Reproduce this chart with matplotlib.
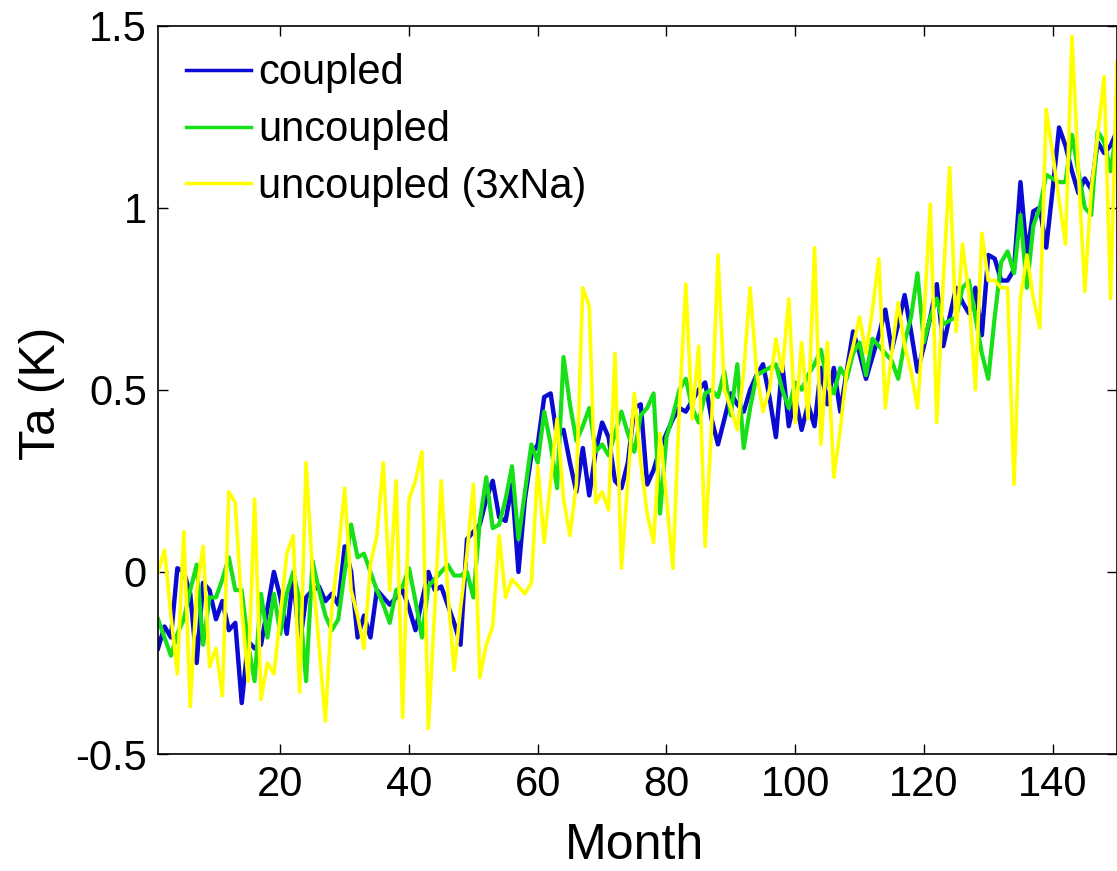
import matplotlib
matplotlib.use("Agg")
import matplotlib.pyplot as plt
import numpy as np

plt.rcParams['font.family'] = ['Liberation Sans', 'DejaVu Sans']

# --- Data ---
months = np.arange(1, 151)

coupled = [
    -0.21, -0.15, -0.18, 0.01, 0.00, -0.06, -0.25, -0.03, -0.05, -0.13,
    -0.08, -0.16, -0.14, -0.36, -0.19, -0.21, -0.20, -0.10, 0.00, -0.07,
    -0.17, -0.01, -0.20, -0.07, -0.05, -0.04, -0.08, -0.06, -0.09, 0.07,
    0.00, -0.18, -0.12, -0.18, -0.05, -0.07, -0.09, -0.07, -0.05, -0.10,
    -0.16, -0.08, 0.00, -0.05, -0.04, -0.09, -0.14, -0.20, 0.09, 0.11,
    0.13, 0.20, 0.25, 0.15, 0.14, 0.24, 0.00, 0.20, 0.32, 0.35,
    0.48, 0.49, 0.37, 0.39, 0.30, 0.22, 0.34, 0.21, 0.33, 0.41,
    0.37, 0.25, 0.23, 0.30, 0.45, 0.46, 0.24, 0.28, 0.34, 0.38,
    0.42, 0.45, 0.44, 0.47, 0.50, 0.52, 0.42, 0.35, 0.42, 0.49,
    0.46, 0.44, 0.50, 0.54, 0.57, 0.48, 0.37, 0.57, 0.40, 0.48,
    0.39, 0.46, 0.40, 0.56, 0.46, 0.56, 0.44, 0.55, 0.66, 0.60,
    0.53, 0.59, 0.65, 0.72, 0.61, 0.68, 0.76, 0.66, 0.55, 0.62,
    0.70, 0.79, 0.62, 0.70, 0.78, 0.74, 0.71, 0.78, 0.65, 0.87,
    0.86, 0.80, 0.80, 0.83, 1.07, 0.87, 0.99, 1.00, 0.89, 1.05,
    1.22, 1.17, 1.10, 1.04, 1.08, 1.05, 1.18, 1.15, 1.17, 1.21,
]

uncoupled = [
    -0.13, -0.18, -0.23, -0.17, -0.13, -0.05, 0.02, -0.20, -0.07, -0.07,
    -0.02, 0.04, -0.05, -0.05, -0.20, -0.30, -0.06, -0.18, -0.06, -0.17,
    -0.06, 0.00, -0.08, -0.30, 0.03, -0.05, -0.12, -0.16, -0.13, 0.00,
    0.13, 0.04, 0.05, 0.00, -0.05, -0.09, -0.14, -0.05, -0.04, 0.01,
    -0.08, -0.18, -0.04, -0.02, 0.00, 0.02, -0.01, -0.01, 0.00, -0.07,
    0.14, 0.26, 0.12, 0.13, 0.20, 0.29, 0.09, 0.22, 0.35, 0.30,
    0.44, 0.35, 0.23, 0.59, 0.46, 0.36, 0.40, 0.45, 0.33, 0.35,
    0.32, 0.38, 0.44, 0.38, 0.33, 0.43, 0.45, 0.49, 0.16, 0.37,
    0.43, 0.50, 0.53, 0.45, 0.41, 0.49, 0.50, 0.48, 0.55, 0.43,
    0.57, 0.34, 0.45, 0.54, 0.55, 0.56, 0.57, 0.50, 0.45, 0.52,
    0.50, 0.54, 0.57, 0.61, 0.52, 0.49, 0.56, 0.53, 0.60, 0.63,
    0.54, 0.64, 0.62, 0.60, 0.58, 0.53, 0.63, 0.70, 0.82, 0.63,
    0.70, 0.75, 0.68, 0.69, 0.70, 0.78, 0.80, 0.70, 0.60, 0.53,
    0.70, 0.85, 0.88, 0.82, 0.98, 0.78, 0.95, 1.00, 1.09, 1.08,
    1.07, 1.07, 1.20, 1.10, 1.00, 0.98, 1.21, 1.18, 1.10, 1.22,
]

uncoupled_3xna = [
    0.00, 0.06, -0.12, -0.28, 0.11, -0.37, -0.05, 0.07, -0.26, -0.21,
    -0.34, 0.22, 0.19, -0.10, -0.30, 0.20, -0.35, -0.25, -0.28, -0.12,
    0.05, 0.10, -0.33, 0.30, 0.00, -0.20, -0.41, -0.10, 0.05, 0.23,
    -0.05, -0.12, -0.21, 0.02, 0.10, 0.30, -0.05, 0.25, -0.40, 0.20,
    0.25, 0.33, -0.43, -0.10, 0.25, -0.05, -0.27, -0.10, 0.05, 0.24,
    -0.29, -0.20, -0.15, 0.10, -0.07, -0.02, -0.04, -0.06, -0.03, 0.29,
    0.08, 0.25, 0.42, 0.20, 0.10, 0.24, 0.78, 0.73, 0.19, 0.22,
    0.17, 0.60, 0.01, 0.25, 0.49, 0.30, 0.16, 0.08, 0.38, 0.20,
    0.01, 0.45, 0.79, 0.42, 0.62, 0.07, 0.40, 0.87, 0.50, 0.45,
    0.39, 0.55, 0.78, 0.55, 0.44, 0.50, 0.64, 0.55, 0.75, 0.41,
    0.63, 0.42, 0.89, 0.35, 0.63, 0.26, 0.39, 0.55, 0.62, 0.70,
    0.60, 0.72, 0.86, 0.45, 0.60, 0.74, 0.62, 0.55, 0.45, 0.70,
    1.01, 0.41, 0.80, 1.11, 0.66, 0.90, 0.76, 0.50, 0.93, 0.80,
    0.80, 0.78, 0.78, 0.24, 0.75, 0.87, 0.75, 0.67, 1.27, 1.15,
    1.02, 0.90, 1.47, 1.10, 0.77, 1.05, 1.20, 1.36, 0.75, 1.40,
]

x_ticks = [20, 40, 60, 80, 100, 120, 140]
y_ticks = [-0.5, 0, 0.5, 1, 1.5]
y_tick_labels = ['-0.5', '0', '0.5', '1', '1.5']

# --- Figure ---
fig = plt.figure(figsize=(11.17, 8.71), dpi=100)
ax = fig.add_axes([0.1415, 0.1343, 0.8585, 0.8364])

ax.plot(months, coupled, color='#0a0ad2', lw=3.2, label='coupled')
ax.plot(months, uncoupled, color='#18e018', lw=3.0, label='uncoupled')
ax.plot(months, uncoupled_3xna, color='#ffff00', lw=2.6, label='uncoupled (3xNa)')

ax.set_xlim(1, 150)
ax.set_ylim(-0.5, 1.5)
ax.set_xticks(x_ticks)
ax.set_yticks(y_ticks)
ax.set_yticklabels(y_tick_labels)
ax.tick_params(direction='in', length=7, width=1, labelsize=30,
               top=True, right=True, pad=8)
for s in ax.spines.values():
    s.set_linewidth(1.2)

ax.set_xlabel('Month', fontsize=36)
ax.set_ylabel('Ta (K)', fontsize=36)
ax.xaxis.set_label_coords(0.497, -0.095)
ax.yaxis.set_label_coords(-0.097, 0.495)

leg = ax.legend(loc='upper left', frameon=False, fontsize=30,
                handlelength=1.56, handletextpad=0.17, labelspacing=0.40,
                borderaxespad=0.32, borderpad=0.35, bbox_to_anchor=(0.0, 1.0))
for h in leg.get_lines():
    h.set_linewidth(2.5)

fig.savefig('out.png', dpi=100)
